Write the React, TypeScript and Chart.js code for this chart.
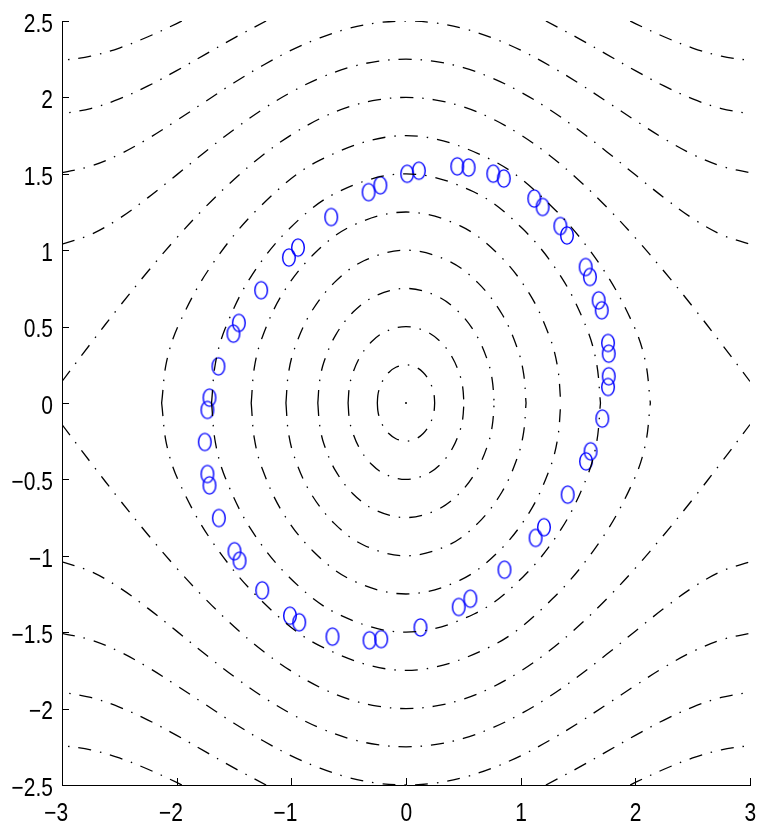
import React, { useEffect, useRef } from 'react';
import { Chart, registerables } from 'chart.js';

Chart.register(...registerables);

// ---- axis ticks ----
const xTickValues = [-3, -2, -1, 0, 1, 2, 3];
const xTickLabels = ['\u22123', '\u22122', '\u22121', '0', '1', '2', '3'];
const yTickValues = [-2.5, -2, -1.5, -1, -0.5, 0, 0.5, 1, 1.5, 2, 2.5];
const yTickLabels = ['\u22122.5', '\u22122', '\u22121.5', '\u22121', '\u22120.5', '0', '0.5', '1', '1.5', '2', '2.5'];

// ---- closed contour rings: quarter arcs [q, p] (q >= 0, p >= 0) ----
const ring025 = [[0, 0.25], [0.088, 0.234], [0.15, 0.2], [0.2, 0.15], [0.233, 0.092], [0.2455, 0.05], [0.25, 0]];
const ring050 = [[0, 0.5], [0.177, 0.468], [0.303, 0.399], [0.404, 0.298], [0.47, 0.182], [0.495, 0.1], [0.505, 0]];
const ring075 = [[0, 0.75], [0.269, 0.7], [0.461, 0.595], [0.615, 0.443], [0.715, 0.27], [0.753, 0.145], [0.769, 0]];
const ring100 = [[0, 1], [0.367, 0.931], [0.628, 0.786], [0.838, 0.581], [0.974, 0.352], [1.026, 0.19], [1.047, 0]];
const ring125 = [[0, 1.25], [0.473, 1.159], [0.81, 0.97], [1.08, 0.711], [1.256, 0.426], [1.323, 0.23], [1.35, 0]];
const ring150 = [[0, 1.5], [0.594, 1.381], [1.018, 1.14], [1.357, 0.821], [1.577, 0.487], [1.662, 0.26], [1.696, 0]];
const ring175 = [[0, 1.75], [0.746, 1.591], [1.279, 1.28], [1.705, 0.891], [1.982, 0.513], [2.088, 0.271], [2.131, 0]];

// ---- open contours (right half, upper side) [q, p] ----
const open200 = [[0, 2], [0.25, 1.984], [0.5, 1.938], [0.75, 1.861], [1, 1.755], [1.25, 1.622], [1.5, 1.463], [1.75, 1.282], [2, 1.081], [2.25, 0.862], [2.5, 0.631], [2.75, 0.389], [3, 0.141]];
const open225 = [[0, 2.25], [0.25, 2.236], [0.5, 2.195], [0.75, 2.127], [1, 2.035], [1.25, 1.922], [1.5, 1.79], [1.75, 1.645], [2, 1.493], [2.25, 1.344], [2.5, 1.208], [2.75, 1.102], [3, 1.04]];
const open250 = [[0, 2.5], [0.25, 2.488], [0.5, 2.451], [0.75, 2.39], [1, 2.309], [1.25, 2.209], [1.5, 2.096], [1.75, 1.973], [2, 1.849], [2.25, 1.73], [2.5, 1.627], [2.75, 1.55], [3, 1.507]];
// these leave the top of the plot, so only the outer pieces are seen
const piece275 = [[1.22, 2.5], [1.5, 2.388], [1.75, 2.282], [2, 2.175], [2.25, 2.075], [2.5, 1.99], [2.75, 1.927], [3, 1.893]];
const piece300 = [[1.955, 2.5], [2, 2.483], [2.25, 2.397], [2.5, 2.323], [2.75, 2.27], [3, 2.241]];

// ---- centre point (zero level) ----
const centre = [[0, 0]];

// ---- blue circles (q, p) ----
const circles = [
  [-1.714, 0.035], [-1.636, 0.24], [-1.505, 0.454], [-1.458, 0.524], [-1.263, 0.738], [-1.021, 0.952],
  [-0.942, 1.017], [-0.652, 1.217], [-0.326, 1.38], [-0.224, 1.425], [0.01, 1.5], [0.112, 1.52],
  [0.447, 1.549], [0.546, 1.541], [0.761, 1.501], [0.853, 1.469], [1.119, 1.338], [1.191, 1.283],
  [1.346, 1.158], [1.404, 1.097], [1.567, 0.89], [1.604, 0.825], [1.68, 0.672], [1.707, 0.607],
  [1.762, 0.393], [1.768, 0.323], [1.768, 0.175], [1.762, 0.105], [1.712, -0.102], [1.61, -0.316],
  [1.57, -0.382], [1.41, -0.6], [1.203, -0.813], [1.13, -0.883], [0.859, -1.091], [0.561, -1.281],
  [0.46, -1.335], [0.126, -1.469], [-0.216, -1.545], [-0.318, -1.553], [-0.641, -1.529], [-0.931, -1.435],
  [-1.012, -1.392], [-1.254, -1.226], [-1.452, -1.032], [-1.496, -0.97], [-1.632, -0.753], [-1.714, -0.539],
  [-1.732, -0.465], [-1.755, -0.255], [-1.732, -0.045],
];

const closedRings = [ring025, ring050, ring075, ring100, ring125, ring150, ring175];
const openCurves = [open200, open225, open250];
const openPieces = [piece275, piece300];

type Pt = { x: number; y: number };

function upperFromQuarter(quarter: number[][]): Pt[] {
  const left = quarter.slice(1).reverse().map(([q, p]) => ({ x: -q, y: p }));
  const right = quarter.map(([q, p]) => ({ x: q, y: p }));
  return [...left, ...right];
}
const flipY = (pts: Pt[]) => pts.map((pt) => ({ x: pt.x, y: -pt.y }));
const flipX = (pts: Pt[]) => pts.map((pt) => ({ x: -pt.x, y: pt.y }));

function makeEllipseMarker(): HTMLCanvasElement {
  const c = document.createElement('canvas');
  c.width = 16;
  c.height = 21;
  const g = c.getContext('2d')!;
  g.strokeStyle = '#0000ff';
  g.lineWidth = 1.4;
  g.beginPath();
  g.ellipse(8, 10.5, 6.3, 8.6, 0, 0, Math.PI * 2);
  g.stroke();
  return c;
}

const DASH = [13, 9, 1.5, 9];

export default function App() {
  const ref = useRef<HTMLCanvasElement | null>(null);

  useEffect(() => {
    if (!ref.current) return;
    const lineStyle = {
      showLine: true,
      pointRadius: 0,
      pointHoverRadius: 0,
      borderColor: '#000000',
      borderWidth: 1.3,
      borderDash: DASH,
      tension: 0.35,
      fill: false,
    };
    const datasets: any[] = [];
    closedRings.forEach((ring) => {
      const up = upperFromQuarter(ring);
      datasets.push({ ...lineStyle, data: up });
      datasets.push({ ...lineStyle, data: flipY(up) });
    });
    openCurves.forEach((curve) => {
      const up = upperFromQuarter(curve);
      datasets.push({ ...lineStyle, data: up });
      datasets.push({ ...lineStyle, data: flipY(up) });
    });
    openPieces.forEach((piece) => {
      const right = piece.map(([q, p]) => ({ x: q, y: p }));
      const left = flipX(right);
      datasets.push({ ...lineStyle, data: right });
      datasets.push({ ...lineStyle, data: left });
      datasets.push({ ...lineStyle, data: flipY(right) });
      datasets.push({ ...lineStyle, data: flipY(left) });
    });
    datasets.push({
      showLine: false,
      data: centre.map(([q, p]) => ({ x: q, y: p })),
      pointRadius: 1,
      pointBackgroundColor: '#000',
      pointBorderWidth: 0,
    });
    datasets.push({
      showLine: false,
      data: circles.map(([q, p]) => ({ x: q, y: p })),
      pointStyle: makeEllipseMarker(),
      pointRadius: 7,
      pointHoverRadius: 7,
    });

    const tickPlugin = {
      id: 'matlabAxes',
      afterDraw(chart: any) {
        const ctx = chart.ctx as CanvasRenderingContext2D;
        const xs = chart.scales.x;
        const ys = chart.scales.y;
        const area = chart.chartArea;
        ctx.save();
        ctx.strokeStyle = '#000';
        ctx.lineWidth = 1;
        ctx.beginPath();
        yTickValues.forEach((v) => {
          const py = Math.round(ys.getPixelForValue(v)) + 0.5;
          ctx.moveTo(area.left, py);
          ctx.lineTo(area.left + 7, py);
        });
        xTickValues.forEach((v) => {
          const px = Math.round(xs.getPixelForValue(v)) + 0.5;
          ctx.moveTo(px, area.bottom);
          ctx.lineTo(px, area.bottom - 7);
        });
        ctx.stroke();
        ctx.fillStyle = '#000';
        ctx.font = '21px "Liberation Sans", Arial, sans-serif';
        ctx.textAlign = 'right';
        ctx.textBaseline = 'alphabetic';
        yTickValues.forEach((v, i) => {
          const py = ys.getPixelForValue(v);
          ctx.save();
          ctx.translate(area.left - 9, py + 10.8);
          ctx.scale(1, 1.2);
          ctx.fillText(yTickLabels[i], 0, 0);
          ctx.restore();
        });
        xTickValues.forEach((v, i) => {
          const px = xs.getPixelForValue(v);
          ctx.save();
          ctx.translate(px + 6.2, area.bottom + 36);
          ctx.scale(1, 1.2);
          ctx.fillText(xTickLabels[i], 0, 0);
          ctx.restore();
        });
        ctx.restore();
      },
    };

    const chart = new Chart(ref.current, {
      type: 'scatter',
      data: { datasets },
      options: {
        animation: false,
        responsive: false,
        devicePixelRatio: 1,
        events: [],
        layout: { padding: { top: 21, right: 7, left: 0, bottom: 0 } },
        plugins: { legend: { display: false }, tooltip: { enabled: false } },
        scales: {
          x: {
            type: 'linear',
            min: -3,
            max: 3,
            grid: { display: false },
            border: { display: true, color: '#000', width: 1 },
            ticks: { display: false, stepSize: 1 },
            afterFit: (s: any) => {
              s.height = 41;
            },
          },
          y: {
            type: 'linear',
            min: -2.5,
            max: 2.5,
            grid: { display: false },
            border: { display: true, color: '#000', width: 1 },
            ticks: { display: false, stepSize: 0.5 },
            afterFit: (s: any) => {
              s.width = 62;
            },
          },
        },
      },
      plugins: [tickPlugin],
    });
    return () => chart.destroy();
  }, []);

  return (
    <div style={{ position: 'fixed', left: 0, top: 0, width: 758, height: 826, background: '#fff' }}>
      <canvas ref={ref} width={758} height={826} style={{ width: 758, height: 826, display: 'block' }} />
    </div>
  );
}
